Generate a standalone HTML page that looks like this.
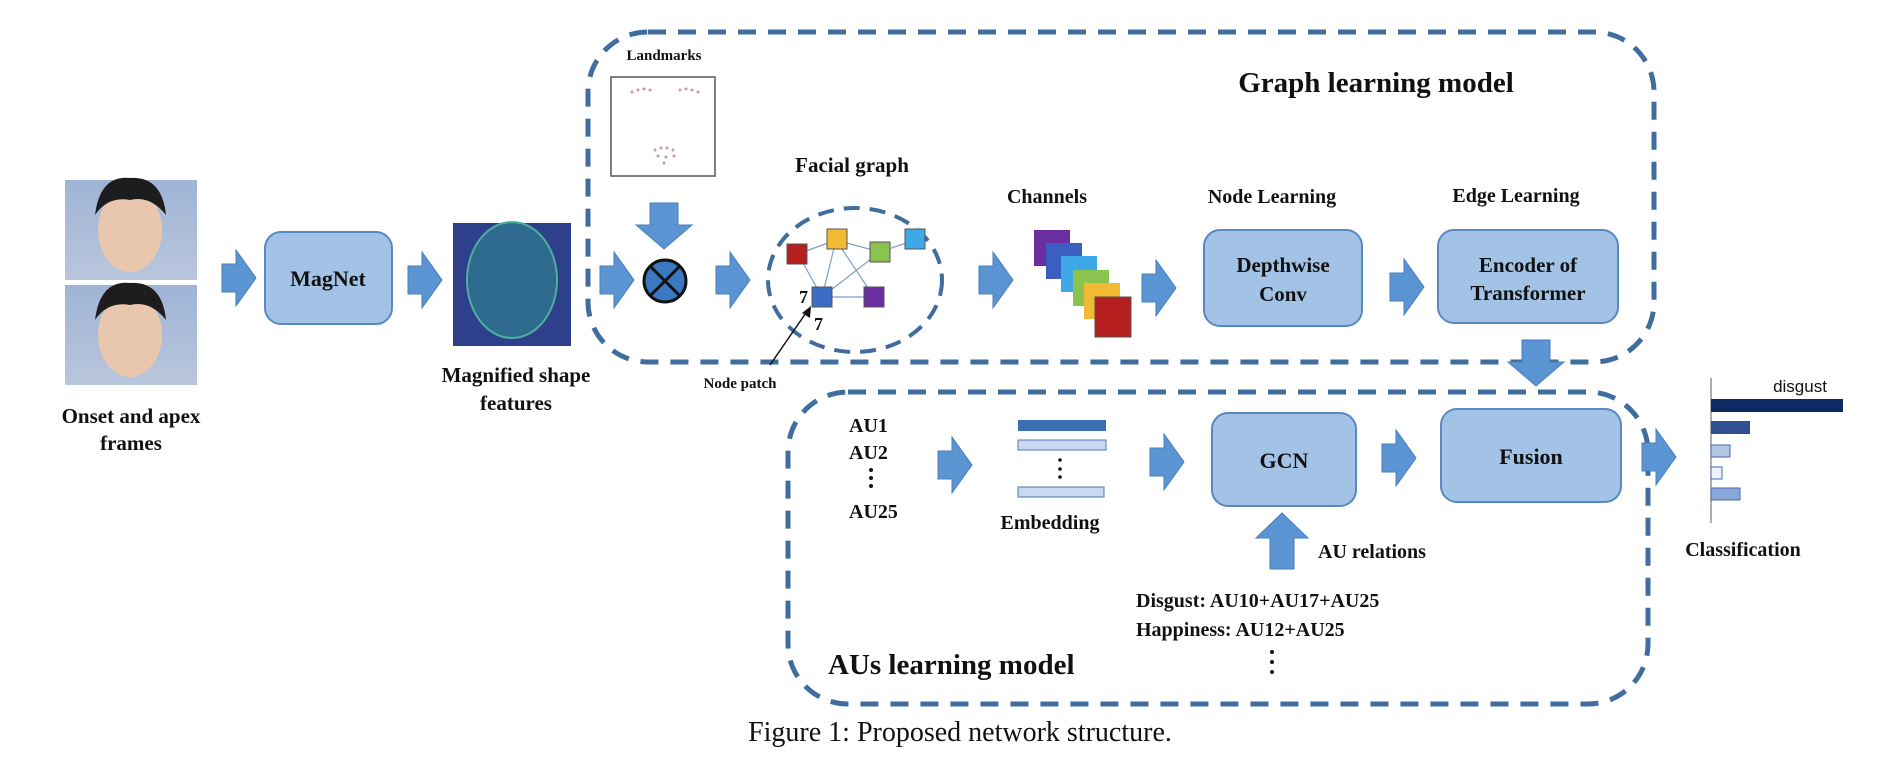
<!DOCTYPE html>
<html><head><meta charset="utf-8"><style>
html,body{margin:0;padding:0;background:#fff;width:1884px;height:760px;overflow:hidden}
svg{display:block}
text{font-family:"Liberation Serif",serif;font-weight:bold;fill:#111}
</style></head><body>
<svg width="1884" height="760" viewBox="0 0 1884 760" xmlns="http://www.w3.org/2000/svg">
<defs>
<linearGradient id="face" x1="0" y1="0" x2="0" y2="1"><stop offset="0" stop-color="#9fb4d6"/><stop offset="1" stop-color="#b9c6dc"/></linearGradient>
<g id="arr"><path d="M0,-14 L14,-14 L14,-28 L34,0 L14,28 L14,14 L0,14 Z" fill="#5b94d3" stroke="#4a7fbc" stroke-width="1"/></g>
<g id="darr"><path d="M-14,0 L14,0 L14,22 L28,22 L0,46 L-28,22 L-14,22 Z" fill="#5b94d3" stroke="#4a7fbc" stroke-width="1"/></g>
</defs>
<!-- dashed boxes -->
<rect x="588" y="32" width="1066" height="330" rx="60" fill="none" stroke="#3f6d9e" stroke-width="5" stroke-dasharray="18,12"/>
<rect x="788" y="392" width="860" height="312" rx="60" fill="none" stroke="#3f6d9e" stroke-width="5" stroke-dasharray="18,12"/>

<!-- faces -->
<g>
<rect x="65" y="180" width="132" height="100" fill="url(#face)"/>
<ellipse cx="130" cy="230" rx="32" ry="42" fill="#e9c6ae"/><path d="M95,215 Q100,175 130,178 Q162,176 166,215 Q150,195 130,200 Q108,196 95,215Z" fill="#1d1d1d"/>
<rect x="65" y="285" width="132" height="100" fill="url(#face)"/>
<ellipse cx="130" cy="335" rx="32" ry="42" fill="#e9c6ae"/><path d="M95,320 Q100,280 130,283 Q162,281 166,320 Q150,300 130,305 Q108,301 95,320Z" fill="#1d1d1d"/>
</g>
<text x="131" y="423" font-size="21" text-anchor="middle">Onset and apex</text>
<text x="131" y="450" font-size="21" text-anchor="middle">frames</text>

<use href="#arr" x="222" y="278"/>
<rect x="265" y="232" width="127" height="92" rx="16" fill="#a3c3e6" stroke="#5a88c0" stroke-width="2"/>
<text x="328" y="286" font-size="22" text-anchor="middle">MagNet</text>
<use href="#arr" x="408" y="280"/>

<rect x="453" y="223" width="118" height="123" fill="#2e3f8c"/>
<ellipse cx="512" cy="280" rx="45" ry="58" fill="#2f6a8f" stroke="#4fb0a0" stroke-width="2"/>
<text x="516" y="382" font-size="21" text-anchor="middle">Magnified shape</text>
<text x="516" y="410" font-size="21" text-anchor="middle">features</text>

<!-- landmarks -->
<text x="664" y="60" font-size="15" text-anchor="middle">Landmarks</text>
<rect x="611" y="77" width="104" height="99" fill="#fff" stroke="#555" stroke-width="1.5"/>
<g fill="#c99">
<circle cx="632" cy="92" r="1.5"/><circle cx="638" cy="90" r="1.5"/><circle cx="644" cy="89" r="1.5"/><circle cx="650" cy="90" r="1.5"/>
<circle cx="680" cy="90" r="1.5"/><circle cx="686" cy="89" r="1.5"/><circle cx="692" cy="90" r="1.5"/><circle cx="698" cy="92" r="1.5"/>
<circle cx="655" cy="150" r="1.5"/><circle cx="661" cy="148" r="1.5"/><circle cx="667" cy="148" r="1.5"/><circle cx="673" cy="150" r="1.5"/><circle cx="658" cy="156" r="1.5"/><circle cx="666" cy="157" r="1.5"/><circle cx="674" cy="156" r="1.5"/><circle cx="664" cy="163" r="1.5"/>
</g>
<use href="#darr" x="664" y="203"/>
<use href="#arr" x="600" y="280"/>
<circle cx="665" cy="281" r="21" fill="#3a78c2" stroke="#111" stroke-width="3"/>
<path d="M650,266 L680,296 M680,266 L650,296" stroke="#111" stroke-width="3"/>
<use href="#arr" x="716" y="280"/>

<!-- facial graph -->
<text x="852" y="172" font-size="21" text-anchor="middle">Facial graph</text>
<ellipse cx="855" cy="280" rx="87" ry="72" fill="none" stroke="#3f6d9e" stroke-width="4" stroke-dasharray="16,10"/>
<g stroke="#7aa0c8" stroke-width="1.2">
<line x1="798" y1="254" x2="836" y2="240"/><line x1="836" y1="240" x2="880" y2="252"/><line x1="880" y1="252" x2="915" y2="240"/>
<line x1="836" y1="240" x2="822" y2="297"/><line x1="836" y1="240" x2="874" y2="297"/><line x1="798" y1="254" x2="822" y2="297"/><line x1="822" y1="297" x2="874" y2="297"/><line x1="880" y1="252" x2="822" y2="297"/>
</g>
<rect x="787" y="244" width="20" height="20" fill="#b51f1f" stroke="#555"/>
<rect x="827" y="229" width="20" height="20" fill="#f2b933" stroke="#555"/>
<rect x="870" y="242" width="20" height="20" fill="#8ac44e" stroke="#555"/>
<rect x="905" y="229" width="20" height="20" fill="#3fa8e6" stroke="#555"/>
<rect x="812" y="287" width="20" height="20" fill="#3a6ec2" stroke="#555"/>
<rect x="864" y="287" width="20" height="20" fill="#6a2ea0" stroke="#555"/>
<text x="799" y="303" font-size="18">7</text>
<text x="814" y="330" font-size="18">7</text>
<line x1="770" y1="365" x2="808" y2="310" stroke="#111" stroke-width="1.5"/>
<path d="M811,306 L810,318 L802,313 Z" fill="#111"/>
<text x="740" y="388" font-size="15" text-anchor="middle">Node patch</text>
<use href="#arr" x="979" y="280"/>

<!-- channels -->
<text x="1047" y="203" font-size="20" text-anchor="middle">Channels</text>
<rect x="1034" y="230" width="36" height="36" fill="#6a2ea0"/>
<rect x="1046" y="243" width="36" height="36" fill="#3a5fc0"/>
<rect x="1061" y="256" width="36" height="36" fill="#3fa8e6"/>
<rect x="1073" y="270" width="36" height="36" fill="#8ac44e"/>
<rect x="1084" y="283" width="36" height="36" fill="#f2b933"/>
<rect x="1095" y="297" width="36" height="40" fill="#b51f1f" stroke="#555"/>
<use href="#arr" x="1142" y="288"/>

<text x="1272" y="203" font-size="20" text-anchor="middle">Node Learning</text>
<rect x="1204" y="230" width="158" height="96" rx="16" fill="#a3c3e6" stroke="#5a88c0" stroke-width="2"/>
<text x="1283" y="272" font-size="21" text-anchor="middle">Depthwise</text>
<text x="1283" y="301" font-size="21" text-anchor="middle">Conv</text>
<use href="#arr" x="1390" y="287"/>

<text x="1516" y="202" font-size="20" text-anchor="middle">Edge Learning</text>
<rect x="1438" y="230" width="180" height="93" rx="16" fill="#a3c3e6" stroke="#5a88c0" stroke-width="2"/>
<text x="1528" y="272" font-size="21" text-anchor="middle">Encoder of</text>
<text x="1528" y="300" font-size="21" text-anchor="middle">Transformer</text>
<text x="1376" y="92" font-size="29" text-anchor="middle">Graph learning model</text>

<use href="#darr" x="1536" y="340"/>

<!-- AUs -->
<text x="849" y="432" font-size="20">AU1</text>
<text x="849" y="459" font-size="20">AU2</text>
<circle cx="871" cy="470" r="2" fill="#111"/><circle cx="871" cy="478" r="2" fill="#111"/><circle cx="871" cy="486" r="2" fill="#111"/>
<text x="849" y="518" font-size="20">AU25</text>
<use href="#arr" x="938" y="465"/>
<rect x="1018" y="420" width="88" height="11" fill="#3b6fb0"/>
<rect x="1018" y="440" width="88" height="10" fill="#c8daf0" stroke="#4a78b0"/>
<circle cx="1060" cy="460" r="1.8" fill="#111"/><circle cx="1060" cy="469" r="1.8" fill="#111"/><circle cx="1060" cy="477" r="1.8" fill="#111"/>
<rect x="1018" y="487" width="86" height="10" fill="#c8daf0" stroke="#4a78b0"/>
<text x="1050" y="529" font-size="20" text-anchor="middle">Embedding</text>
<use href="#arr" x="1150" y="462"/>
<rect x="1212" y="413" width="144" height="93" rx="16" fill="#a3c3e6" stroke="#5a88c0" stroke-width="2"/>
<text x="1284" y="468" font-size="22" text-anchor="middle">GCN</text>
<use href="#arr" x="1382" y="458"/>
<rect x="1441" y="409" width="180" height="93" rx="16" fill="#a3c3e6" stroke="#5a88c0" stroke-width="2"/>
<text x="1531" y="464" font-size="22" text-anchor="middle">Fusion</text>
<path d="M1282,513 L1308,538 L1294,538 L1294,569 L1270,569 L1270,538 L1256,538 Z" fill="#5b94d3" stroke="#4a7fbc"/>
<text x="1318" y="558" font-size="20">AU relations</text>
<text x="1136" y="607" font-size="20">Disgust: AU10+AU17+AU25</text>
<text x="1136" y="636" font-size="20">Happiness: AU12+AU25</text>
<circle cx="1272" cy="652" r="2" fill="#111"/><circle cx="1272" cy="662" r="2" fill="#111"/><circle cx="1272" cy="672" r="2" fill="#111"/>
<text x="828" y="674" font-size="29">AUs learning model</text>

<use href="#arr" x="1642" y="457"/>
<!-- classification -->
<line x1="1711" y1="378" x2="1711" y2="523" stroke="#777" stroke-width="1.2"/>
<rect x="1711" y="399" width="132" height="13" fill="#0e2a63"/>
<rect x="1711" y="421" width="39" height="13" fill="#2f4f92"/>
<rect x="1711" y="445" width="19" height="12" fill="#b4c6e6" stroke="#4a69a8"/>
<rect x="1711" y="467" width="11" height="12" fill="#eef2fa" stroke="#4a69a8"/>
<rect x="1711" y="488" width="29" height="12" fill="#8aa6d8" stroke="#4a69a8"/>
<text x="1800" y="392" font-size="17" text-anchor="middle" style="font-family:'Liberation Sans',sans-serif;font-weight:normal">disgust</text>
<text x="1743" y="556" font-size="20" text-anchor="middle">Classification</text>

<text x="960" y="741" font-size="28" text-anchor="middle" style="font-weight:normal">Figure 1: Proposed network structure.</text>
</svg>
</body></html>
